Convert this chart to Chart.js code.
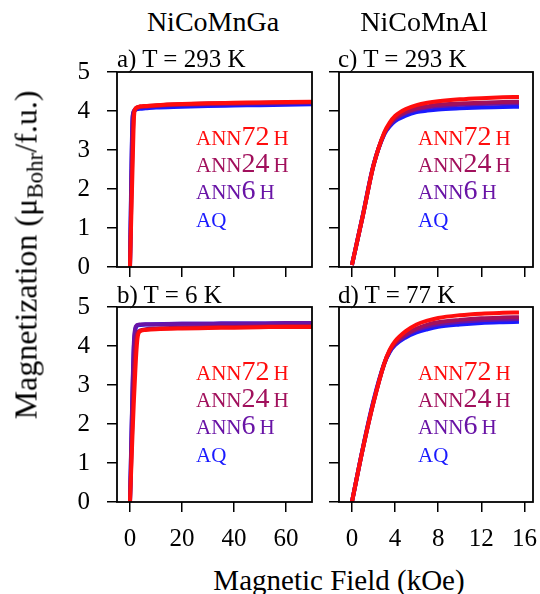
<!DOCTYPE html>
<html lang="en">
<head>
<meta charset="UTF-8">
<title>NiCoMnGa / NiCoMnAl magnetization</title>
<script src="https://cdn.jsdelivr.net/npm/chart.js"></script>
<style>
    body {
        margin: 0;
        background: #fff;
        font-family: 'Liberation Serif', 'Times New Roman', serif;
        color: #000;
    }
    #page {
        position: relative;
        width: 540px;
        height: 594px;
        overflow: hidden;
    }
    canvas {
        position: absolute;
    }
    .txt {
        position: absolute;
        white-space: nowrap;
        line-height: 1;
        transform: translate(-50%, -50%);
    }
    .panel-label {
        position: absolute;
        white-space: nowrap;
        line-height: 1;
        font-size: 25px;
        transform: translateY(-50%);
    }
    #ytitle {
        position: absolute;
        left: 28px;
        top: 255px;
        font-size: 32px;
        white-space: nowrap;
        line-height: 1;
        transform: translate(-50%, -50%) rotate(-90deg);
    }
    #ytitle sub {
        font-size: 23px;
        vertical-align: -6px;
    }
</style>
</head>
<body>
<div id="page">
    <canvas id="pa" width="285" height="275" style="left:47px;top:52px"></canvas>
    <canvas id="pc" width="284" height="275" style="left:269px;top:52px"></canvas>
    <canvas id="pb" width="285" height="275" style="left:47px;top:287px"></canvas>
    <canvas id="pd" width="284" height="275" style="left:269px;top:287px"></canvas>

    <div class="txt" style="left:213px;top:22px;font-size:28px">NiCoMnGa</div>
    <div class="txt" style="left:424px;top:22px;font-size:28px">NiCoMnAl</div>
    <div class="panel-label" style="left:117px;top:58px">a) T = 293 K</div>
    <div class="panel-label" style="left:338px;top:58px">c) T = 293 K</div>
    <div class="panel-label" style="left:117px;top:294px">b) T = 6 K</div>
    <div class="panel-label" style="left:338px;top:294px">d) T = 77 K</div>
    <div class="txt" style="left:339px;top:580px;font-size:29px">Magnetic Field (kOe)</div>
    <div id="ytitle">Magnetization (&mu;<sub>Bohr</sub>/f.u.)</div>
</div>

<script>
    // series, top to bottom in the legends
    const seriesNames = ['ANN72H', 'ANN24H', 'ANN6H', 'AQ'];
    const seriesColors = ['#ff0d0d', '#a1105c', '#6914a6', '#1a1aff'];

    const yTicks = [0, 1, 2, 3, 4, 5];
    const xTicksGa = [0, 20, 40, 60];
    const xTicksAl = [0, 4, 8, 12, 16];

    // a) NiCoMnGa, T = 293 K
    const fieldGa293 = [0, 0.5, 1, 1.5, 2, 3, 4, 6, 10, 20, 30, 40, 50, 60, 70];
    const ann72Ga293 = [0, 1.3, 2.6, 3.8, 4.05, 4.1, 4.12, 4.13, 4.15, 4.18, 4.2, 4.21, 4.22, 4.23, 4.24];
    const ann24Ga293 = [0, 1.7, 3.2, 3.95, 4.05, 4.1, 4.11, 4.12, 4.14, 4.17, 4.19, 4.2, 4.21, 4.22, 4.23];
    const ann6Ga293 = [0, 2.2, 3.8, 4.0, 4.04, 4.08, 4.1, 4.11, 4.13, 4.16, 4.17, 4.18, 4.19, 4.2, 4.21];
    const aqGa293 = [0, 2.4, 3.85, 3.98, 4.02, 4.05, 4.06, 4.07, 4.09, 4.11, 4.13, 4.14, 4.15, 4.16, 4.17];

    // b) NiCoMnGa, T = 6 K
    const fieldGa6 = [0, 0.5, 1, 1.5, 2, 2.5, 3, 4, 6, 10, 20, 30, 40, 50, 60, 70];
    const ann72Ga6 = [0, 0.9, 1.8, 2.6, 3.3, 3.9, 4.25, 4.38, 4.41, 4.43, 4.45, 4.46, 4.47, 4.48, 4.49, 4.49];
    const ann24Ga6 = [0, 1.1, 2.2, 3.2, 3.9, 4.25, 4.35, 4.4, 4.43, 4.45, 4.47, 4.48, 4.49, 4.5, 4.51, 4.51];
    const ann6Ga6 = [0, 1.6, 3.0, 4.1, 4.45, 4.52, 4.54, 4.55, 4.56, 4.56, 4.57, 4.57, 4.58, 4.58, 4.59, 4.59];
    const aqGa6 = [0, 1.5, 2.9, 4.0, 4.4, 4.5, 4.53, 4.54, 4.55, 4.56, 4.57, 4.57, 4.58, 4.58, 4.58, 4.58];

    // c) NiCoMnAl, T = 293 K
    const fieldAl293 = [0, 1, 2, 3, 3.5, 4, 5, 6, 7, 8, 10, 12, 14, 15.5];
    const ann72Al293 = [0.05, 1.3, 2.6, 3.45, 3.7, 3.87, 4.05, 4.15, 4.21, 4.25, 4.3, 4.33, 4.35, 4.36];
    const ann24Al293 = [0.05, 1.3, 2.6, 3.43, 3.66, 3.82, 3.98, 4.07, 4.12, 4.16, 4.19, 4.21, 4.23, 4.24];
    const ann6Al293 = [0.05, 1.3, 2.6, 3.42, 3.64, 3.79, 3.95, 4.04, 4.09, 4.12, 4.16, 4.18, 4.19, 4.2];
    const aqAl293 = [0.05, 1.32, 2.62, 3.4, 3.6, 3.74, 3.88, 3.97, 4.01, 4.04, 4.07, 4.09, 4.1, 4.11];

    // d) NiCoMnAl, T = 77 K
    const fieldAl77 = [0, 1, 2, 3, 3.5, 4, 5, 6, 7, 8, 10, 12, 14, 15.5];
    const ann72Al77 = [0, 1.35, 2.55, 3.55, 3.9, 4.12, 4.38, 4.55, 4.65, 4.72, 4.79, 4.83, 4.85, 4.86];
    const ann24Al77 = [0, 1.35, 2.55, 3.55, 3.88, 4.08, 4.3, 4.45, 4.55, 4.61, 4.67, 4.71, 4.73, 4.74];
    const ann6Al77 = [0, 1.36, 2.57, 3.55, 3.86, 4.05, 4.27, 4.41, 4.5, 4.56, 4.62, 4.66, 4.68, 4.69];
    const aqAl77 = [0, 1.37, 2.6, 3.55, 3.84, 4.02, 4.22, 4.35, 4.43, 4.49, 4.55, 4.59, 4.61, 4.62];

    const serif = "'Liberation Serif', 'Times New Roman', serif";

    // box round the plot area and the in-plot legend
    const panelDecor = {
        id: 'panelDecor',
        afterDatasetsDraw(chart) {
            const ctx = chart.ctx;
            const a = chart.chartArea;
            ctx.save();
            ctx.strokeStyle = '#000';
            ctx.lineWidth = 1.8;
            ctx.strokeRect(a.left, a.top, a.right - a.left, a.bottom - a.top);

            const rows = [73, 100, 126.5, 155];
            ctx.textBaseline = 'alphabetic';
            seriesNames.forEach((name, i) => {
                let x = a.left + 79;
                const y = a.top + rows[i];
                ctx.fillStyle = seriesColors[i];
                name.split(/(\d+)/).filter(s => s).forEach(part => {
                    const digits = /^\d+$/.test(part);
                    ctx.font = (digits ? '28px ' : '21px ') + serif;
                    ctx.fillText(part, x, y);
                    x += ctx.measureText(part).width + (digits ? 4 : 0);
                });
            });
            ctx.restore();
        }
    };

    function makePanel(id, field, values, xMin, xMax, xTicks, showXLabels, showYLabels) {
        const datasets = values.map((v, i) => ({
            label: seriesNames[i],
            data: field.map((x, k) => ({ x: x, y: v[k] })),
            borderColor: seriesColors[i],
            borderWidth: 4,
            pointRadius: 0,
            fill: false,
            cubicInterpolationMode: 'monotone'
        }));
        return new Chart(document.getElementById(id), {
            type: 'line',
            data: { datasets: datasets },
            options: {
                responsive: false,
                animation: false,
                layout: { padding: { left: 10, top: 20, right: 20, bottom: 10 } },
                plugins: { legend: { display: false }, tooltip: { enabled: false } },
                scales: {
                    x: {
                        type: 'linear',
                        min: xMin,
                        max: xMax,
                        border: { display: false },
                        grid: { drawOnChartArea: false, drawTicks: true, tickLength: 10, color: '#000', lineWidth: 1.5 },
                        ticks: {
                            display: showXLabels,
                            padding: 12,
                            color: '#000',
                            font: { family: serif, size: 25 }
                        },
                        afterBuildTicks: s => { s.ticks = xTicks.map(v => ({ value: v })); },
                        afterFit: s => { s.height = 50; s.paddingLeft = 0; s.paddingRight = 0; }
                    },
                    y: {
                        min: 0,
                        max: 5,
                        border: { display: false },
                        grid: { drawOnChartArea: false, drawTicks: true, tickLength: 10, color: '#000', lineWidth: 1.5 },
                        ticks: {
                            display: showYLabels,
                            padding: 17,
                            color: '#000',
                            font: { family: serif, size: 25 }
                        },
                        afterBuildTicks: s => { s.ticks = yTicks.map(v => ({ value: v })); },
                        afterFit: s => { s.width = 60; s.paddingTop = 0; s.paddingBottom = 0; }
                    }
                }
            },
            plugins: [panelDecor]
        });
    }

    makePanel('pa', fieldGa293, [ann72Ga293, ann24Ga293, ann6Ga293, aqGa293], -5, 70, xTicksGa, false, true);
    makePanel('pb', fieldGa6, [ann72Ga6, ann24Ga6, ann6Ga6, aqGa6], -5, 70, xTicksGa, true, true);
    makePanel('pc', fieldAl293, [ann72Al293, ann24Al293, ann6Al293, aqAl293], -1.2, 16.8, xTicksAl, false, false);
    makePanel('pd', fieldAl77, [ann72Al77, ann24Al77, ann6Al77, aqAl77], -1.2, 16.8, xTicksAl, true, false);
</script>
</body>
</html>
